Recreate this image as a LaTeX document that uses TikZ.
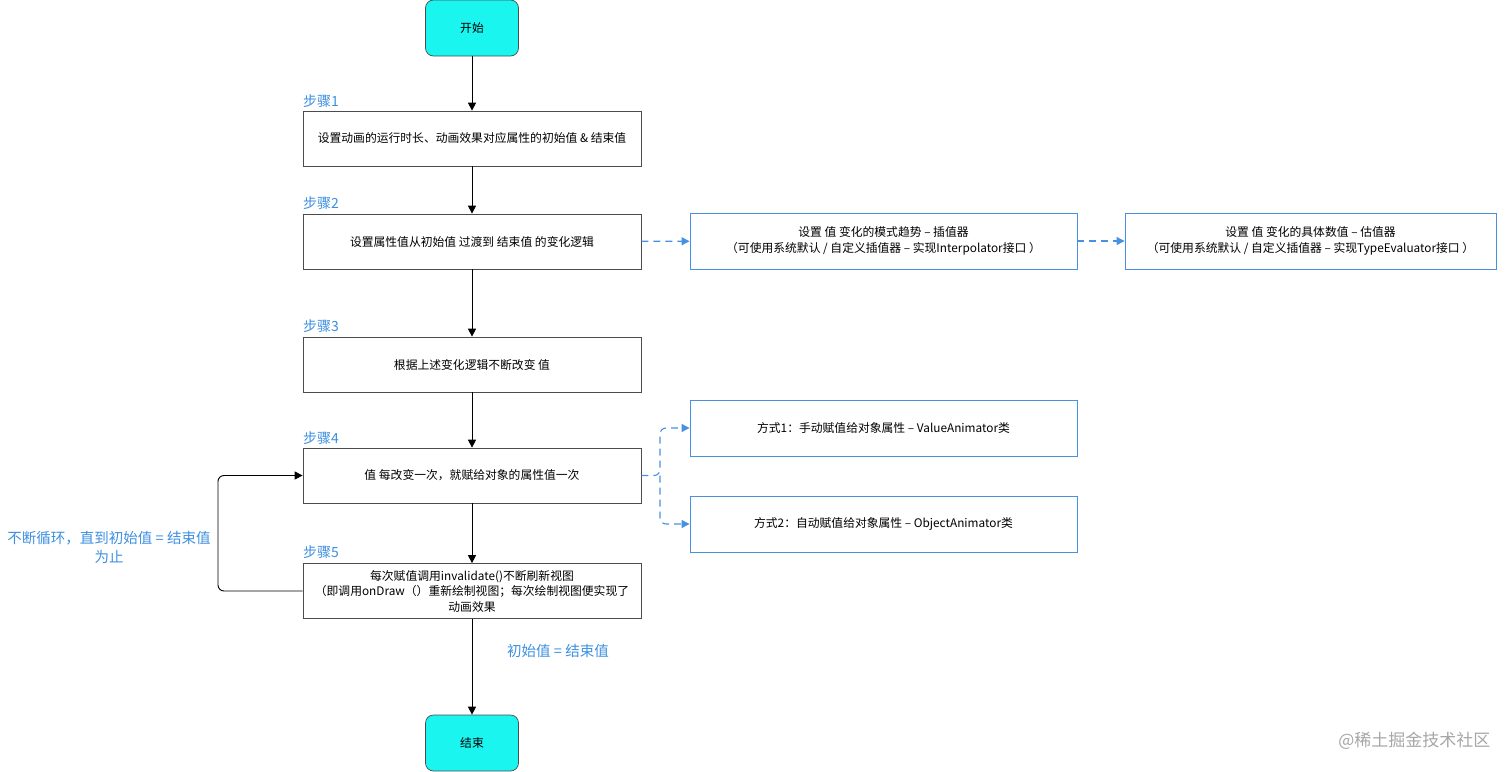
\documentclass[tikz,border=0pt]{standalone}
\usepackage{fontspec}
\setmainfont{Noto Sans CJK SC}
\usetikzlibrary{arrows.meta, positioning}
\definecolor{stepblue}{HTML}{3D8FE0}
\definecolor{boxblue}{HTML}{4A90E2}
\definecolor{startcyan}{HTML}{1BF5F0}

\begin{document}
\begin{tikzpicture}[
        x=1pt, y=-1pt,
        stepbox/.style={rectangle, minimum width=338pt, minimum height=55pt, draw=black!70, line width=0.7pt, fill=white, align=center, font=\fontsize{11.8}{15.5}\selectfont},
        side/.style={rectangle, minimum width=387pt, minimum height=56pt, draw=boxblue, line width=0.9pt, fill=white, align=center, font=\fontsize{11.8}{15.5}\selectfont},
        term/.style={rectangle, rounded corners=8pt, minimum width=93pt, minimum height=56pt, draw=black!70, line width=0.7pt, fill=startcyan, font=\fontsize{11.8}{15}\selectfont},
        steplabel/.style={anchor=west, text=stepblue, inner sep=0pt, font=\fontsize{14}{16}\selectfont},
        note/.style={text=stepblue, align=center, font=\fontsize{14.5}{19}\selectfont},
        arrow/.style={line width=0.9pt, -{Triangle[length=8pt, width=8pt]}},
        dasharrow/.style={boxblue, line width=1.1pt, dash pattern=on 7pt off 5pt, rounded corners=6pt, -{Triangle[length=8pt, width=8pt]}}
    ]
        \useasboundingbox (0,0) rectangle (1512,771);

        % Main column
        \node (start) [term] at (472,28) {开始};
        \node (s1) [stepbox] at (472,138.5) {设置动画的运行时长、动画效果对应属性的初始值 \& 结束值};
        \node (s2) [stepbox] at (472,241.5) {设置属性值从初始值 过渡到 结束值 的变化逻辑};
        \node (s3) [stepbox] at (472,364.5) {根据上述变化逻辑不断改变 值};
        \node (s4) [stepbox] at (472,475.5) {值 每改变一次，就赋给对象的属性值一次};
        \node (s5) [stepbox] at (472,591) {每次赋值调用invalidate()不断刷新视图\\（即调用onDraw（）重新绘制视图；每次绘制视图便实现了\\动画效果};
        \node (finish) [term] at (472,743) {结束};

        % Step labels
        \node (l1) [steplabel] at (303,101) {步骤1};
        \node (l2) [steplabel] at (303,203) {步骤2};
        \node (l3) [steplabel] at (303,326) {步骤3};
        \node (l4) [steplabel] at (303,438) {步骤4};
        \node (l5) [steplabel] at (303,552) {步骤5};

        % Side boxes
        \node (interp) [side] at (883.5,241) {设置 值 变化的模式趋势 – 插值器\\（可使用系统默认 / 自定义插值器 – 实现Interpolator接口 ）};
        \node (eval) [side, minimum width=371pt] at (1310.5,241) {设置 值 变化的具体数值 – 估值器\\（可使用系统默认 / 自定义插值器 – 实现TypeEvaluator接口 ）};
        \node (way1) [side] at (883.5,428) {方式1：手动赋值给对象属性 – ValueAnimator类};
        \node (way2) [side] at (883.5,524) {方式2：自动赋值给对象属性 – ObjectAnimator类};

        % Notes
        \node (loopnote) [note] at (109,547) {不断循环，直到初始值 = 结束值\\为止};
        \node (endnote) [note] at (558,651) {初始值 = 结束值};
        \node (mark) [text=black!35, font=\fontsize{17}{19}\selectfont, anchor=east] at (1494,741) {@稀土掘金技术社区};

        % Arrows
        \draw [arrow] (start) -- (s1);
        \draw [arrow] (s1) -- (s2);
        \draw [arrow] (s2) -- (s3);
        \draw [arrow] (s3) -- (s4);
        \draw [arrow] (s4) -- (s5);
        \draw [arrow] (s5) -- (finish);
        \draw [arrow, rounded corners=6pt] (s5.west) -| (218,475.5) -- (s4.west);

        \draw [dasharrow] (s2) -- (interp);
        \draw [dasharrow] (interp) -- (eval);
        \draw [dasharrow] (s4.east) -- (660,475.5) |- (way1.west);
        \draw [dasharrow] (660,475.5) |- (way2.west);
\end{tikzpicture}
\end{document}
